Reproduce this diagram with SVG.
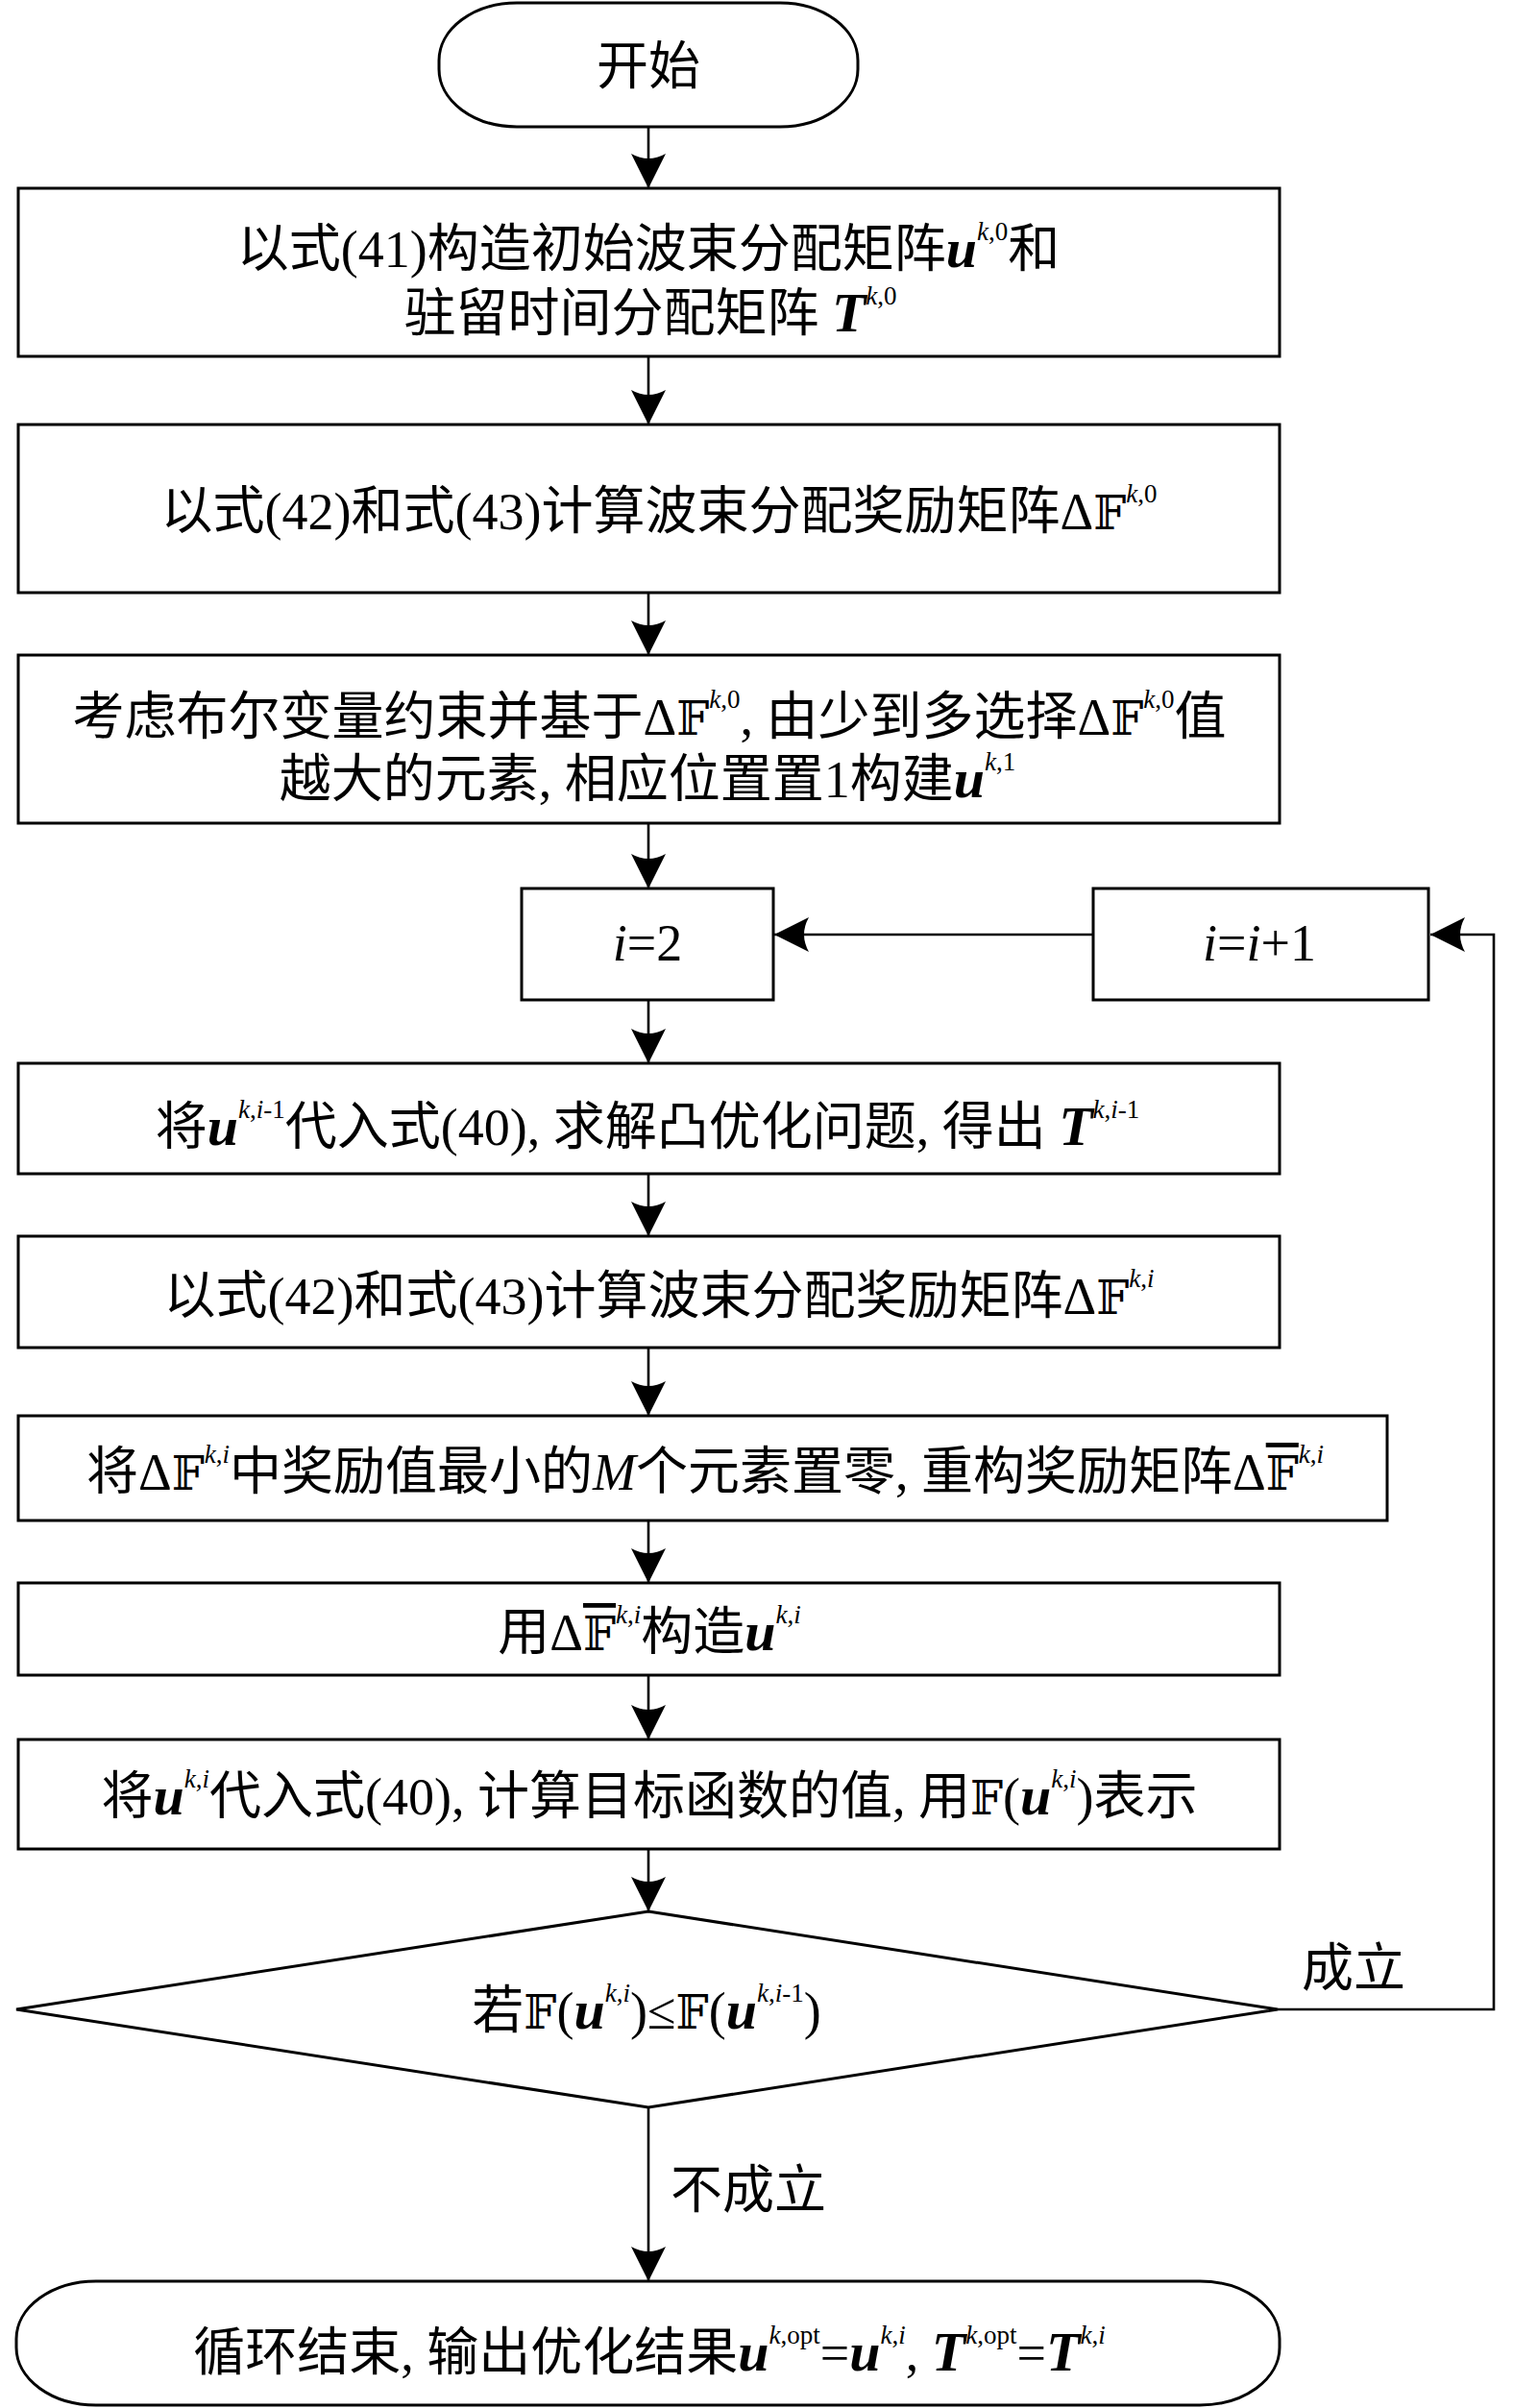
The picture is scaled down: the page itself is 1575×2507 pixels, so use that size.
<svg xmlns="http://www.w3.org/2000/svg" width="1575" height="2507" viewBox="0 0 1575 2507">
<style>
.box{fill:#fff;stroke:#000;stroke-width:3}
.ln{fill:none;stroke:#000;stroke-width:2.6}
.t{font-family:"Liberation Serif","Noto Sans CJK SC","DejaVu Serif","DejaVu Sans",serif;font-size:54px;fill:#000}
.i{font-style:italic}
.b{font-style:italic;font-weight:bold;font-size:58px}
.s{font-size:27px}
.bb{font-family:"DejaVu Serif","DejaVu Sans",serif;font-size:48px}
.ov{text-decoration:overline}
</style>
<defs>
<marker id="ah" markerUnits="userSpaceOnUse" viewBox="0 0 36 36" refX="36" refY="18" markerWidth="36" markerHeight="36" orient="auto">
<path d="M0,0 L36,18 L0,36 Q10,18 0,0 Z" fill="#000"/>
</marker>
</defs>
<g id="connectors">
<line class="ln" x1="675" y1="132" x2="675" y2="196" marker-end="url(#ah)"/>
<line class="ln" x1="675" y1="371" x2="675" y2="442" marker-end="url(#ah)"/>
<line class="ln" x1="675" y1="617" x2="675" y2="682" marker-end="url(#ah)"/>
<line class="ln" x1="675" y1="857" x2="675" y2="925" marker-end="url(#ah)"/>
<line class="ln" x1="675" y1="1041" x2="675" y2="1107" marker-end="url(#ah)"/>
<line class="ln" x1="675" y1="1222" x2="675" y2="1287" marker-end="url(#ah)"/>
<line class="ln" x1="675" y1="1403" x2="675" y2="1474" marker-end="url(#ah)"/>
<line class="ln" x1="675" y1="1583" x2="675" y2="1648" marker-end="url(#ah)"/>
<line class="ln" x1="675" y1="1744" x2="675" y2="1811" marker-end="url(#ah)"/>
<line class="ln" x1="675" y1="1925" x2="675" y2="1990" marker-end="url(#ah)"/>
<line class="ln" x1="675" y1="2194" x2="675" y2="2375" marker-end="url(#ah)"/>
<line class="ln" x1="1138" y1="973" x2="806" y2="973" marker-end="url(#ah)"/>
<polyline class="ln" points="1330,2092 1555,2092 1555,973 1489,973" marker-end="url(#ah)"/>
<text class="t" x="1355" y="2068">成立</text>
<text class="t" x="698" y="2299">不成立</text>
</g>
<g id="start">
<rect class="box" x="457" y="3" width="436" height="129" rx="81" ry="60"/>
<text class="t" x="675" y="88" text-anchor="middle">开始</text>
</g>
<g id="init">
<rect class="box" x="19" y="196" width="1313" height="175"/>
<text class="t" x="675" y="278" text-anchor="middle">以式(41)构造初始波束分配矩阵<tspan class="b">u</tspan><tspan class="s" dy="-28"><tspan class="i">k</tspan>,0</tspan><tspan dy="28">和</tspan></text>
<text class="t" x="677" y="345" text-anchor="middle">驻留时间分配矩阵 <tspan class="b">T</tspan><tspan class="s" dy="-28"><tspan class="i">k</tspan>,0</tspan></text>
</g>
<g id="reward0">
<rect class="box" x="19" y="442" width="1313" height="175"/>
<text class="t" x="686" y="551" text-anchor="middle">以式(42)和式(43)计算波束分配奖励矩阵Δ<tspan class="bb">𝔽</tspan><tspan class="s" dy="-28"><tspan class="i">k</tspan>,0</tspan></text>
</g>
<g id="select">
<rect class="box" x="19" y="682" width="1313" height="175"/>
<text class="t" x="676" y="765" text-anchor="middle">考虑布尔变量约束并基于Δ<tspan class="bb">𝔽</tspan><tspan class="s" dy="-28"><tspan class="i">k</tspan>,0</tspan><tspan dy="28">, 由少到多选择Δ</tspan><tspan class="bb">𝔽</tspan><tspan class="s" dy="-28"><tspan class="i">k</tspan>,0</tspan><tspan dy="28">值</tspan></text>
<text class="t" x="674" y="830" text-anchor="middle">越大的元素, 相应位置置1构建<tspan class="b">u</tspan><tspan class="s" dy="-28"><tspan class="i">k</tspan>,1</tspan></text>
</g>
<g id="i2">
<rect class="box" x="543" y="925" width="262" height="116"/>
<text class="t" x="674" y="1000" text-anchor="middle"><tspan class="i">i</tspan>=2</text>
</g>
<g id="inc">
<rect class="box" x="1138" y="925" width="349" height="116"/>
<text class="t" x="1311" y="1000" text-anchor="middle"><tspan class="i">i</tspan>=<tspan class="i">i</tspan>+1</text>
</g>
<g id="solve">
<rect class="box" x="19" y="1107" width="1313" height="115"/>
<text class="t" x="674" y="1192" text-anchor="middle">将<tspan class="b">u</tspan><tspan class="s" dy="-28"><tspan class="i">k</tspan>,<tspan class="i">i</tspan>-1</tspan><tspan dy="28">代入式(40), 求解凸优化问题, 得出 </tspan><tspan class="b">T</tspan><tspan class="s" dy="-28"><tspan class="i">k</tspan>,<tspan class="i">i</tspan>-1</tspan></text>
</g>
<g id="reward">
<rect class="box" x="19" y="1287" width="1313" height="116"/>
<text class="t" x="686" y="1368" text-anchor="middle">以式(42)和式(43)计算波束分配奖励矩阵Δ<tspan class="bb">𝔽</tspan><tspan class="s" dy="-28"><tspan class="i">k</tspan>,<tspan class="i">i</tspan></tspan></text>
</g>
<g id="zero">
<rect class="box" x="19" y="1474" width="1425" height="109"/>
<text class="t" x="734" y="1551" text-anchor="middle">将Δ<tspan class="bb">𝔽</tspan><tspan class="s" dy="-28"><tspan class="i">k</tspan>,<tspan class="i">i</tspan></tspan><tspan dy="28">中奖励值最小的</tspan><tspan class="i">M</tspan>个元素置零, 重构奖励矩阵Δ<tspan class="bb ov">𝔽</tspan><tspan class="s" dy="-28"><tspan class="i">k</tspan>,<tspan class="i">i</tspan></tspan></text>
</g>
<g id="construct">
<rect class="box" x="19" y="1648" width="1313" height="96"/>
<text class="t" x="676" y="1718" text-anchor="middle">用Δ<tspan class="bb ov">𝔽</tspan><tspan class="s" dy="-28"><tspan class="i">k</tspan>,<tspan class="i">i</tspan></tspan><tspan dy="28">构造</tspan><tspan class="b">u</tspan><tspan class="s" dy="-28"><tspan class="i">k</tspan>,<tspan class="i">i</tspan></tspan></text>
</g>
<g id="evaluate">
<rect class="box" x="19" y="1811" width="1313" height="114"/>
<text class="t" x="676" y="1889" text-anchor="middle">将<tspan class="b">u</tspan><tspan class="s" dy="-28"><tspan class="i">k</tspan>,<tspan class="i">i</tspan></tspan><tspan dy="28">代入式(40), 计算目标函数的值, 用</tspan><tspan class="bb">𝔽</tspan>(<tspan class="b">u</tspan><tspan class="s" dy="-28"><tspan class="i">k</tspan>,<tspan class="i">i</tspan></tspan><tspan dy="28">)表示</tspan></text>
</g>
<g id="decision">
<polygon class="box" points="675,1990 1330,2092 675,2194 17,2092"/>
<text class="t" x="673" y="2112" text-anchor="middle">若<tspan class="bb">𝔽</tspan>(<tspan class="b">u</tspan><tspan class="s" dy="-28"><tspan class="i">k</tspan>,<tspan class="i">i</tspan></tspan><tspan dy="28">)≤</tspan><tspan class="bb">𝔽</tspan>(<tspan class="b">u</tspan><tspan class="s" dy="-28"><tspan class="i">k</tspan>,<tspan class="i">i</tspan>-1</tspan><tspan dy="28">)</tspan></text>
</g>
<g id="end">
<rect class="box" x="17" y="2375" width="1315" height="129" rx="83" ry="60"/>
<text class="t" x="676" y="2468" text-anchor="middle">循环结束, 输出优化结果<tspan class="b">u</tspan><tspan class="s" dy="-28"><tspan class="i">k</tspan>,opt</tspan><tspan dy="28">=</tspan><tspan class="b">u</tspan><tspan class="s" dy="-28"><tspan class="i">k</tspan>,<tspan class="i">i</tspan></tspan><tspan dy="28">, </tspan><tspan class="b">T</tspan><tspan class="s" dy="-28"><tspan class="i">k</tspan>,opt</tspan><tspan dy="28">=</tspan><tspan class="b">T</tspan><tspan class="s" dy="-28"><tspan class="i">k</tspan>,<tspan class="i">i</tspan></tspan></text>
</g>
</svg>
